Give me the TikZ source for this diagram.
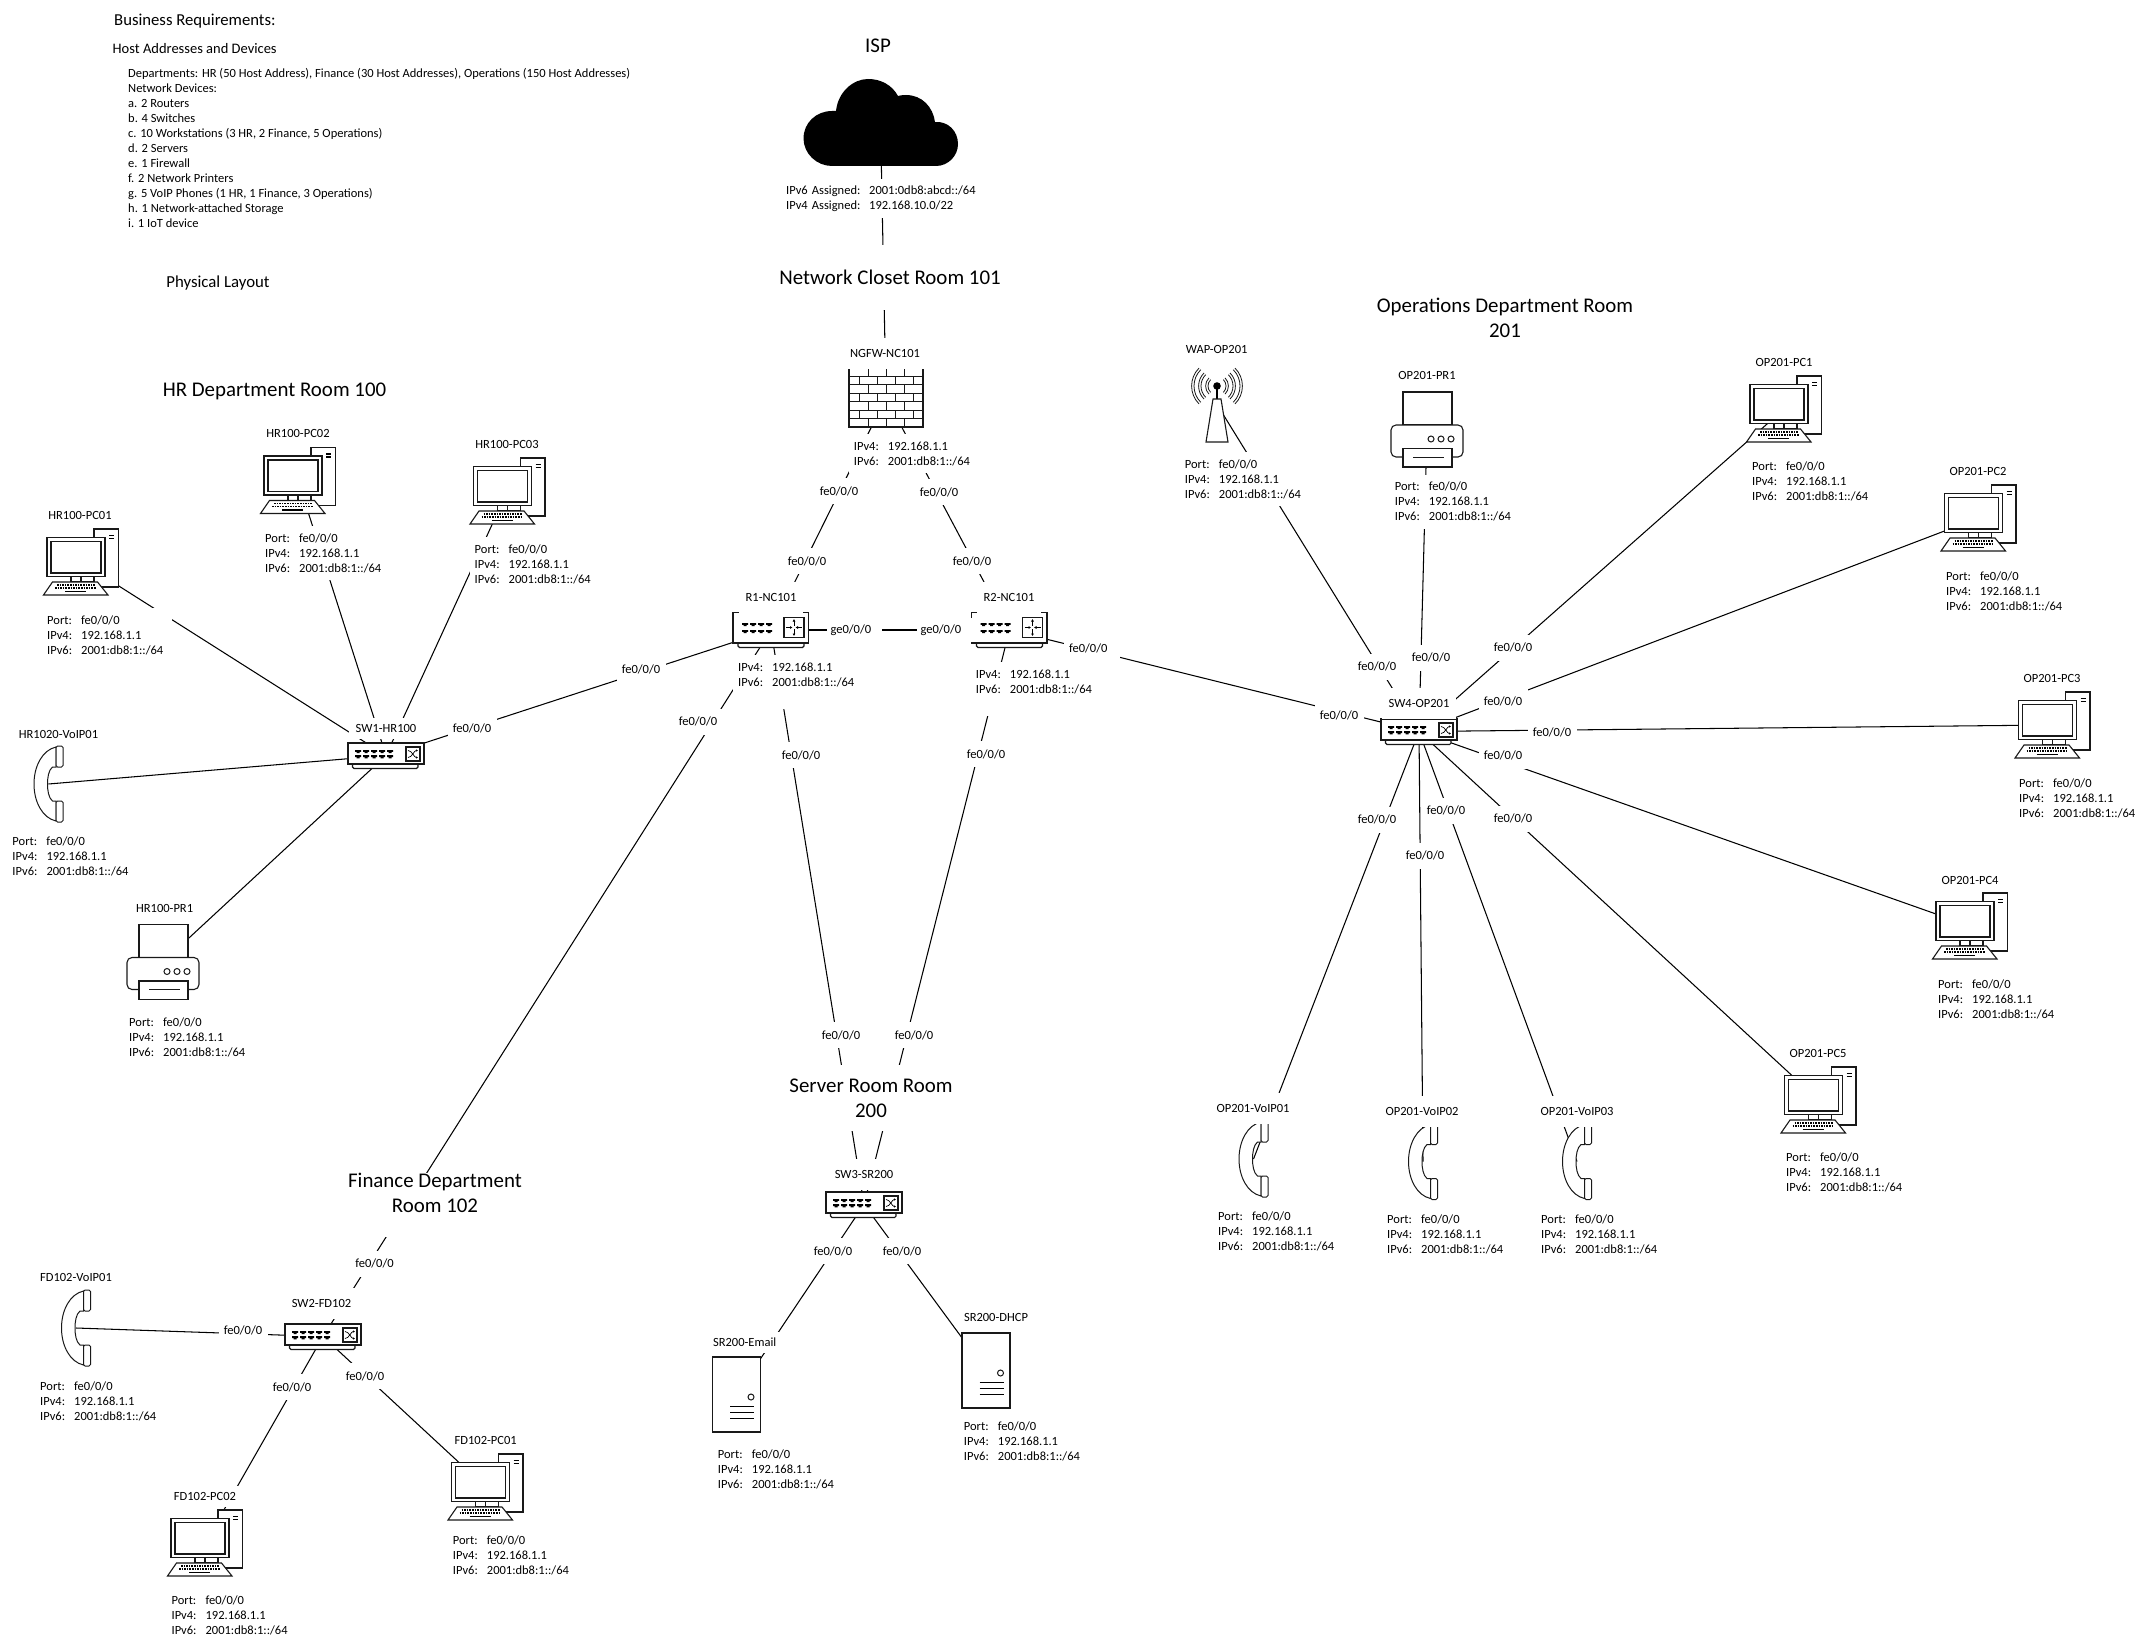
\documentclass[tikz,border=0pt]{standalone}
\usepackage{fontspec}
\setmainfont{Carlito}
\usetikzlibrary{arrows.meta}
\pgfdeclarelayer{bg}
\pgfsetlayers{bg,main}
\tikzset{
 x=1pt,y=-1pt,
 conn/.style={draw=black,line width=1.05pt},
 ico/.style={draw=black!90,line width=1.1pt,fill=white},
 small/.style={font=\fontsize{12.5}{15}\selectfont},
 lb/.style={small,fill=white,inner sep=0pt,minimum width=49pt,minimum height=26pt},
 wlb/.style={small,fill=white,inner sep=0pt,minimum height=24pt},
 dt/.style={small,fill=white,inner sep=0pt,inner xsep=7pt,minimum height=21pt},
 dtt/.style={dt,minimum height=31pt},
 blk/.style={small,anchor=west,fill=white,inner ysep=0pt,inner xsep=5pt,text width=120pt,minimum height=54pt,align=left},
 blktwo/.style={small,anchor=west,fill=white,inner ysep=0pt,inner xsep=5pt,text width=120pt,minimum height=39pt,align=left},
 big/.style={font=\fontsize{20.9}{25}\selectfont,fill=white,inner sep=0pt,align=center},
 devbox/.style={inner sep=0pt,minimum size=4pt},
 pcdev/.style={devbox,minimum width=76pt,minimum height=66pt},
 swdev/.style={devbox,minimum width=76pt,minimum height=25pt},
 rtdev/.style={devbox,minimum width=76pt,minimum height=35pt},
 fwdev/.style={devbox,minimum width=74pt,minimum height=59pt},
 srvdev/.style={devbox,minimum width=48pt,minimum height=75pt},
 prdev/.style={devbox,minimum width=72pt,minimum height=75pt},
 phdev/.style={devbox,minimum width=29pt,minimum height=75pt},
 wapdev/.style={devbox,minimum width=50pt,minimum height=75pt},
 pcicon/.pic={
  \draw[ico] (13,-33) rectangle (37.5,25);
  \draw[black,line width=1.3pt] (28,-26.5) -- (33,-26.5) (28,-23.5) -- (33,-23.5);
  \draw[ico] (-34,-24.5) rectangle (24,14.5);
  \draw[ico] (-30,-20.5) rectangle (20,11);
  \draw[ico] (-10,14.5) rectangle (13,20);
  \draw[ico,fill=none] (0,14.5) -- (0,20);
  \draw[ico] (-28.5,20) -- (16.5,20) -- (27,33) -- (-37.5,33) -- cycle;
  \draw[black,line width=1.6pt,dash pattern=on 1.6pt off 1pt] (-24,23) -- (14,23) (-26,26) -- (15,26);
  \draw[black,line width=1.5pt] (-16,29.3) -- (5,29.3);
 },
 swport/.pic={\fill[black] (-3,-1.5) -- (3,-1.5) -- (3,0.4) -- (1.5,0.4) -- (1.5,1.6) -- (-1.5,1.6) -- (-1.5,0.4) -- (-3,0.4) -- cycle;},
 swicon/.pic={
  \draw[ico,rounded corners=1.5pt] (-33.5,8) rectangle (32,13);
  \draw[ico] (-38,-12.5) rectangle (38,8.5);
  \foreach \px in {-28,-20,-12,-4,4}{\foreach \py in {-4,1.2}{\pic at (\px,\py) {swport};}}
  \draw[ico] (20,-8.5) rectangle (34,5.5);
  \draw[line width=.7pt,-{Latex[length=2pt,width=2.4pt]}] (22,-5) .. controls (26,-5) and (28,2) .. (32,2);
  \draw[line width=.7pt,-{Latex[length=2pt,width=2.4pt]}] (22,2) .. controls (26,2) and (28,-5) .. (32,-5);
 },
 rticon/.pic={
  \draw[ico,rounded corners=1.5pt] (-33,12) rectangle (33,17.5);
  \draw[ico] (-38,-17.5) rectangle (37.5,13);
  \foreach \px in {-26,-18,-10,-2}{\foreach \py in {-5.5,1.5}{\pic at (\px,\py) {swport};}}
  \draw[ico] (13,-12.5) rectangle (33,7.5);
  \draw[line width=.8pt,-{Latex[length=2.5pt,width=3pt]}] (15,-2.5) -- (21.5,-2.5);
  \draw[line width=.8pt,-{Latex[length=2.5pt,width=3pt]}] (31,-2.5) -- (24.5,-2.5);
  \draw[line width=.8pt,-{Latex[length=2.5pt,width=3pt]}] (23,-4) -- (23,-11);
  \draw[line width=.8pt,-{Latex[length=2.5pt,width=3pt]}] (23,-1) -- (23,6);
 },
 fwicon/.pic={
  \draw[ico] (-37,-29.5) rectangle (37,29.5);
  \foreach \i in {1,...,6}{\draw[black!90,line width=1pt] (-37,-29.5+\i*8.43) -- (37,-29.5+\i*8.43);}
  \foreach \r in {0,2,4,6}{\foreach \vx in {-18,0,18}{\draw[black!90,line width=1pt] (\vx,-29.5+\r*8.43) -- (\vx,-29.5+\r*8.43+8.43);}}
  \foreach \r in {1,3,5}{\foreach \vx in {-27,-9,9,27}{\draw[black!90,line width=1pt] (\vx,-29.5+\r*8.43) -- (\vx,-29.5+\r*8.43+8.43);}}
 },
 srvicon/.pic={
  \draw[ico] (-24,-37.5) rectangle (24,37.5);
  \draw[black!90,line width=1pt] (14.5,2.5) circle (3);
  \draw[black,line width=1.3pt] (-6.5,12) -- (17.5,12) (-6.5,18) -- (17.5,18) (-6.5,24) -- (17.5,24);
 },
 pricon/.pic={
  \draw[ico] (-24,-37.5) rectangle (25,-4.5);
  \draw[ico,rounded corners=5pt] (-36,27.5) -- (-36,-4.5) -- (36,-4.5) -- (36,27.5) -- cycle;
  \draw[ico] (-24,19) rectangle (25,37.5);
  \draw[black!90,line width=1pt] (-14,27.5) -- (17,27.5);
  \foreach \cx in {4,14,24}{\draw[black!90,line width=1pt] (\cx,9.5) circle (3);}
 },
 phicon/.pic={
  \draw[ico,line width=1pt] (7.5,-37) .. controls (-6,-34) and (-14.5,-18) .. (-14.5,0) .. controls (-14.5,18) and (-6,34) .. (7.5,37) -- (7.5,17) -- (4,17) .. controls (0,14) and (-1,6) .. (-1,0) .. controls (-1,-6) and (0,-14) .. (4,-17) -- (7.5,-17) -- cycle;
  \draw[ico,line width=1pt,rounded corners=1.5pt] (7.5,-38) rectangle (14.5,-17);
  \draw[ico,line width=1pt,rounded corners=1.5pt] (7.5,17) rectangle (14.5,38);
 },
 wapicon/.pic={
  \foreach \ra in {9,16,23}{
   \draw[black!90,line width=.8pt] (0,-18.5) ++(45:\ra) arc[start angle=45,end angle=-45,radius=\ra];
   \draw[black!90,line width=.8pt] (0,-18.5) ++(45:\ra+2.4) arc[start angle=45,end angle=-45,radius=\ra+2.4];
   \draw[black!90,line width=.8pt] (0,-18.5) ++(135:\ra) arc[start angle=135,end angle=225,radius=\ra];
   \draw[black!90,line width=.8pt] (0,-18.5) ++(135:\ra+2.4) arc[start angle=135,end angle=225,radius=\ra+2.4];
  }
  \draw[black,line width=1.6pt] (0,-18.5) -- (0,-5);
  \fill[black] (0,-18.5) circle (3.8);
  \draw[ico] (-4,-5.5) -- (4,-5.5) -- (11,37.5) -- (-11,37.5) -- cycle;
 },
}
\newcommand{\dev}[4]{\node[#1dev] (#2) at (#3,#4) {}; \pic at (#2.center) {#1icon};}
\newcommand{\ipb}[5]{\node[blk] (#1) at (#2-5,#3+16) {\makebox[34pt][l]{Port:}#4\\\makebox[34pt][l]{IPv4:}192.168.1.1\\\makebox[34pt][l]{IPv6:}2001:db8:1::/64};}
\newcommand{\ipr}[3]{\node[blk] (#1) at (#2-6,#3+16) {\makebox[34pt][l]{IPv4:}192.168.1.1\\\makebox[34pt][l]{IPv6:}2001:db8:1::/64\\\mbox{}};}
\begin{document}
\begin{tikzpicture}
\useasboundingbox (0,0) rectangle (2151,1648);
\begin{pgfonlayer}{bg}
\fill[white] (0,0) rectangle (2151,1648);
\end{pgfonlayer}
% header
\node[anchor=west,inner sep=0pt,font=\fontsize{16.7}{18}\selectfont] (hbr) at (114,21) {Business Requirements:};
\node[anchor=west,inner sep=0pt,font=\fontsize{14.5}{18}\selectfont] (hhost) at (112.5,49) {Host Addresses and Devices};
\node[anchor=north west,inner sep=0pt,small,align=left] (hlist) at (128,68) {Departments: HR (50 Host Address), Finance (30 Host Addresses), Operations (150 Host Addresses)\\Network Devices:\\a. 2 Routers\\b. 4 Switches\\c. 10 Workstations (3 HR, 2 Finance, 5 Operations)\\d. 2 Servers\\e. 1 Firewall\\f. 2 Network Printers\\g. 5 VoIP Phones (1 HR, 1 Finance, 3 Operations)\\h. 1 Network-attached Storage\\i. 1 IoT device};
\node[inner sep=0pt,font=\fontsize{16.8}{18}\selectfont] (hphys) at (218,283) {Physical Layout};
\node[big] (thr) at (274.5,391) {HR Department Room 100};
\node[big,minimum width=240pt,minimum height=65pt] (tnet) at (890,277) {Network Closet Room 101};
\node[big,minimum width=190pt,minimum height=66pt] (tsrv) at (871,1098) {Server Room Room\\200};
\node[big] (tfin) at (435,1205) {Finance Department\\Room 102\\\mbox{}};
\node[big] (tops) at (1505,318) {Operations Department Room\\201};
% ISP
\node[big,fill=none] (tisp) at (878,46) {ISP};
\node[devbox,minimum width=155pt,minimum height=87pt] (isp) at (880.5,122) {};
\fill[black] (832,166) .. controls (816.6,166) and (803.5,153.5) .. (803.5,138.5) .. controls (803.5,123) and (816,111) .. (832,111) -- (836,111) .. controls (838,92) and (853,79) .. (868,79) .. controls (881,79) and (892,85) .. (898,96) .. controls (902,95) and (904,95) .. (906,95) .. controls (922,95) and (933,107) .. (935,122) .. controls (948,121) and (958,131) .. (958,144) .. controls (958,156) and (948,166) .. (936,166) -- cycle;
\node[blktwo] (ispb) at (781,198.5) {\makebox[83pt][l]{IPv6 Assigned:}2001:0db8:abcd::/64\\\makebox[83pt][l]{IPv4 Assigned:}192.168.10.0/22};
% core
\dev{fw}{ngfw}{886}{397.5}
\node[dtt] (tngfw) at (885,353) {NGFW-NC101};
\node[blktwo] (bngfw) at (848.7,453.5) {\makebox[34pt][l]{IPv4:}192.168.1.1\\\makebox[34pt][l]{IPv6:}2001:db8:1::/64};
\dev{rt}{rone}{771}{630}
\node[dtt] (trone) at (771,597) {R1-NC101};
\ipr{brone}{739}{666}
\dev{rt}{rtwo}{1009.5}{630}
\node[dtt] (trtwo) at (1009,597) {R2-NC101};
\ipr{brtwo}{976.7}{673}
\node[lb] (l1) at (839,491) {fe0/0/0};
\node[lb] (l2) at (939,492) {fe0/0/0};
\node[lb] (l3) at (807,561) {fe0/0/0};
\node[lb] (l4) at (972,561) {fe0/0/0};
\node[wlb] (l5) at (854.5,630) {\makebox[55pt][l]{\hspace{3.5pt}ge0/0/0}};
\node[wlb] (l6) at (944.5,630) {\makebox[55pt][l]{\hspace{3.5pt}ge0/0/0}};
\node[wlb] (l7) at (1092,648) {\makebox[56pt][l]{\hspace{5pt}fe0/0/0}};
\node[lb] (l8) at (1339,715.5) {fe0/0/0};
\node[lb] (l9) at (986,754) {fe0/0/0};
\node[lb] (l10) at (801,755) {fe0/0/0};
\node[lb] (l11) at (698,721.5) {fe0/0/0};
\node[lb] (l12) at (641,669) {fe0/0/0};
\node[lb] (l13) at (472,728.5) {fe0/0/0};
\node[lb] (l14) at (841,1035) {fe0/0/0};
\node[lb] (l15) at (914,1035) {fe0/0/0};
\node[lb] (l16) at (374.5,1263.5) {fe0/0/0};
% HR
\dev{pc}{hrpa}{81}{562}
\node[dt] (thrpa) at (80,515) {HR100-PC01};
\ipb{bhrpa}{47}{619}{fe0/0/0}{}
\dev{pc}{hrpb}{298}{480.5}
\node[dt] (thrpb) at (298,433) {HR100-PC02};
\ipb{bhrpb}{265}{537}{fe0/0/0}{}
\dev{pc}{hrpc}{507.5}{491}
\node[dt] (thrpc) at (507,444) {HR100-PC03};
\ipb{bhrpc}{474.5}{548}{fe0/0/0}{}
\dev{sw}{swa}{386}{755.5}
\node[dt] (tswa) at (386,728) {SW1-HR100};
\dev{ph}{hrvo}{48.5}{784}
\node[dt] (thrvo) at (58.5,734) {HR1020-VoIP01};
\ipb{bhrvo}{12.3}{840}{fe0/0/0}{}
\dev{pr}{hrpr}{163}{962}
\node[dt] (thrpr) at (164.6,908) {HR100-PR1};
\ipb{bhrpr}{129}{1021}{fe0/0/0}{}
% Finance
\dev{sw}{swb}{323}{1336.5}
\node[dtt] (tswb) at (321.5,1303) {SW2-FD102};
\dev{ph}{fdvo}{76}{1328}
\node[dt] (tfdvo) at (76,1277) {FD102-VoIP01};
\ipb{bfdvo}{40}{1385}{fe0/0/0}{}
\dev{pc}{fdpa}{485.5}{1487}
\node[dt] (tfdpa) at (485.7,1440) {FD102-PC01};
\ipb{bfdpa}{452.7}{1539}{fe0/0/0}{}
\dev{pc}{fdpb}{205}{1543}
\node[dt] (tfdpb) at (205,1496) {FD102-PC02};
\ipb{bfdpb}{171.4}{1599}{fe0/0/0}{}
\node[lb] (l20) at (243,1330) {fe0/0/0};
\node[lb] (l21) at (292,1387) {fe0/0/0};
\node[lb] (l22) at (365,1376) {fe0/0/0};
% Server room
\dev{sw}{swc}{864}{1204.5}
\node[dtt] (tswc) at (864,1174) {SW3-SR200};
\dev{srv}{sema}{736.5}{1394.5}
\node[dt] (tsema) at (744.7,1342) {SR200-Email};
\ipb{bsema}{717.7}{1453}{fe0/0/0}{}
\dev{srv}{sdhc}{986}{1370.5}
\node[dt] (tsdhc) at (996,1317) {SR200-DHCP};
\ipb{bsdhc}{963.7}{1425}{fe0/0/0}{}
\node[lb] (l30) at (833,1251) {fe0/0/0};
\node[lb] (l31) at (902,1251) {fe0/0/0};
% Operations
\dev{sw}{swd}{1419}{731.5}
\node[dtt] (tswd) at (1419,703) {SW4-OP201};
\dev{wap}{wap}{1217}{404.5}
\node[dt] (twap) at (1216.7,349) {WAP-OP201};
\ipb{bwap}{1184.7}{463}{fe0/0/0}{}
\dev{pr}{oppr}{1427}{429.5}
\node[dt] (toppr) at (1427,375) {OP201-PR1};
\ipb{boppr}{1394.7}{485.7}{fe0/0/0}{}
\dev{pc}{opa}{1784}{409}
\node[dt] (topa) at (1784,362) {OP201-PC1};
\ipb{bopa}{1752}{465}{fe0/0/0}{}
\dev{pc}{opb}{1978.5}{518}
\node[dt] (topb) at (1978,471) {OP201-PC2};
\ipb{bopb}{1946}{575}{fe0/0/0}{}
\dev{pc}{opc}{2052.5}{725}
\node[dt] (topc) at (2052,678) {OP201-PC3};
\ipb{bopc}{2019}{782}{fe0/0/0}{}
\dev{pc}{opd}{1970}{926}
\node[dt] (topd) at (1970,880) {OP201-PC4};
\ipb{bopd}{1938}{983}{fe0/0/0}{}
\dev{pc}{ope}{1818.5}{1100}
\node[dt] (tope) at (1818,1053) {OP201-PC5};
\ipb{bope}{1786}{1156}{fe0/0/0}{}
\dev{ph}{ova}{1253.5}{1159}
\node[dtt] (tova) at (1253,1108) {OP201-VoIP01};
\ipb{bova}{1218}{1215}{fe0/0/0}{}
\dev{ph}{ovb}{1423}{1161.5}
\node[dtt] (tovb) at (1422,1111) {OP201-VoIP02};
\ipb{bovb}{1387}{1218}{fe0/0/0}{}
\dev{ph}{ovc}{1577}{1161.5}
\node[dtt] (tovc) at (1577,1111) {OP201-VoIP03};
\ipb{bovc}{1541}{1218}{fe0/0/0}{}
\node[lb] (l40) at (1377,666.5) {fe0/0/0};
\node[lb] (l41) at (1431,657.5) {fe0/0/0};
\node[lb] (l42) at (1513,647.5) {fe0/0/0};
\node[lb] (l43) at (1503,701.5) {fe0/0/0};
\node[lb] (l44) at (1552,732) {fe0/0/0};
\node[lb] (l45) at (1503,755.5) {fe0/0/0};
\node[lb] (l46) at (1513,818.5) {fe0/0/0};
\node[lb] (l47) at (1446,810.5) {fe0/0/0};
\node[lb] (l48) at (1377,819.5) {fe0/0/0};
\node[lb] (l49) at (1425,855.5) {fe0/0/0};
% connectors, behind everything
\begin{pgfonlayer}{bg}
\foreach \a/\b in {isp/ngfw,ngfw/rone,ngfw/rtwo,rone/rtwo,rone/swa,rone/swb,rone/swc,rtwo/swc,rtwo/swd,
 swa/hrpa,swa/hrpb,swa/hrpc,swa/hrvo,swa/hrpr,
 swb/fdvo,swb/fdpa,swb/fdpb,
 swc/sema,swc/sdhc,
 swd/wap,swd/oppr,swd/opa,swd/opb,swd/opc,swd/opd,swd/ope,swd/ova,swd/ovb,swd/ovc}
 {\draw[conn] (\a.center) -- (\b.center);}
\end{pgfonlayer}
\end{tikzpicture}
\end{document}
